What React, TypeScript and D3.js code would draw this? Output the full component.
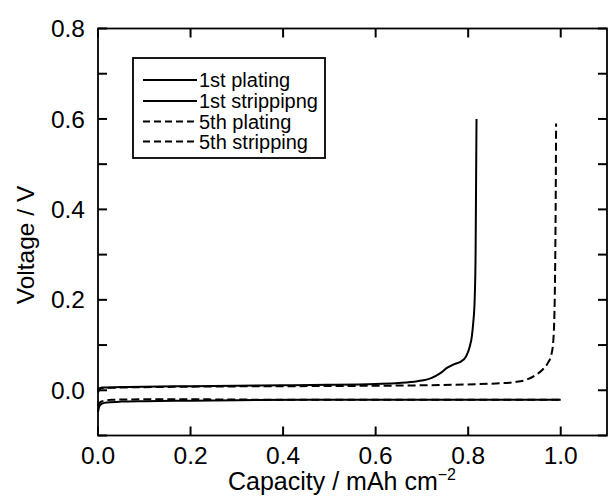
import React from "react";
import * as d3 from "d3";

const plating1X = [0, 0.002, 0.005, 0.01, 0.02, 0.05, 0.1, 0.2, 0.3, 0.5, 0.7, 0.9, 1.0];
const plating1Y = [-0.048, -0.038, -0.032, -0.029, -0.027, -0.025, -0.024, -0.023, -0.022, -0.021, -0.021, -0.021, -0.021];

const stripping1X = [0, 0.003, 0.01, 0.05, 0.1, 0.2, 0.3, 0.4, 0.5, 0.6, 0.65, 0.69, 0.72, 0.74, 0.755, 0.77, 0.785, 0.795, 0.803, 0.808, 0.811, 0.814, 0.816, 0.817, 0.818];
const stripping1Y = [0.0, 0.004, 0.006, 0.007, 0.008, 0.009, 0.01, 0.011, 0.012, 0.014, 0.016, 0.02, 0.027, 0.038, 0.05, 0.058, 0.064, 0.074, 0.095, 0.12, 0.15, 0.2, 0.3, 0.45, 0.6];

const plating5X = [0, 0.003, 0.01, 0.03, 0.1, 0.2, 0.4, 0.6, 0.8, 1.0];
const plating5Y = [-0.035, -0.028, -0.024, -0.021, -0.02, -0.02, -0.021, -0.021, -0.021, -0.021];

const stripping5X = [0, 0.003, 0.01, 0.05, 0.2, 0.4, 0.6, 0.7, 0.8, 0.86, 0.9, 0.925, 0.945, 0.96, 0.972, 0.98, 0.984, 0.987, 0.989, 0.99];
const stripping5Y = [-0.005, 0.002, 0.005, 0.006, 0.008, 0.009, 0.01, 0.011, 0.013, 0.015, 0.018, 0.023, 0.033, 0.045, 0.06, 0.08, 0.11, 0.2, 0.4, 0.59];

const xTicks = [0, 0.2, 0.4, 0.6, 0.8, 1.0];
const yTicksMajor = [0, 0.2, 0.4, 0.6, 0.8];
const yTicksAll = [-0.1, 0, 0.1, 0.2, 0.3, 0.4, 0.5, 0.6, 0.7, 0.8];

const seriesNames = ["1st plating", "1st strippipng", "5th plating", "5th stripping"];
const seriesDashed = [false, false, true, true];

const W = 609;
const H = 502;
const L = 98, R = 607, T = 28.5, B = 435.5;
const FONT = "'Liberation Sans', Arial, Helvetica, sans-serif";

export default function App() {
  const x = d3.scaleLinear().domain([0, 1.1]).range([L, R]);
  const y = d3.scaleLinear().domain([-0.1, 0.8]).range([B, T]);
  const line = d3
    .line<[number, number]>()
    .x((d) => x(d[0]))
    .y((d) => y(d[1]))
    .curve(d3.curveMonotoneX);

  const series = [
    d3.zip(plating1X, plating1Y) as [number, number][],
    d3.zip(stripping1X, stripping1Y) as [number, number][],
    d3.zip(plating5X, plating5Y) as [number, number][],
    d3.zip(stripping5X, stripping5Y) as [number, number][],
  ];

  const tickLen = 9;
  const legX = 133, legY = 58, legW = 192, legH = 100;
  const rowY = [80, 101, 121.5, 141.5];

  return (
    <svg
      width={W}
      height={H}
      style={{ position: "absolute", left: 0, top: 0, background: "#fff" }}
      fontFamily={FONT}
    >
      <rect x={0} y={0} width={W} height={H} fill="#fff" />
      {series.map((s, i) => (
        <path
          key={i}
          d={line(s) || ""}
          fill="none"
          stroke="#000"
          strokeWidth={2}
          strokeDasharray={seriesDashed[i] ? "8,4" : undefined}
        />
      ))}
      {/* frame */}
      <rect x={L} y={T} width={R - L} height={B - T} fill="none" stroke="#000" strokeWidth={1.8} />
      {/* x ticks bottom & top */}
      {xTicks.map((t) => (
        <g key={"x" + t}>
          <line x1={x(t)} x2={x(t)} y1={B} y2={B - tickLen} stroke="#000" strokeWidth={2} />
          <line x1={x(t)} x2={x(t)} y1={T} y2={T + tickLen} stroke="#000" strokeWidth={2} />
          <text x={x(t)} y={464} textAnchor="middle" fontSize={24.5} fill="#000">
            {t.toFixed(1)}
          </text>
        </g>
      ))}
      {/* y ticks left & right */}
      {yTicksAll.map((t) => (
        <g key={"y" + t}>
          <line x1={L} x2={L + tickLen} y1={y(t)} y2={y(t)} stroke="#000" strokeWidth={2} />
          <line x1={R} x2={R - tickLen} y1={y(t)} y2={y(t)} stroke="#000" strokeWidth={2} />
        </g>
      ))}
      {yTicksMajor.map((t) => (
        <text key={"yl" + t} x={85} y={y(t)} dy="0.35em" textAnchor="end" fontSize={24.5} fill="#000">
          {t.toFixed(1)}
        </text>
      ))}
      {/* axis titles */}
      <text x={342} y={490} textAnchor="middle" fontSize={25} fill="#000">
        Capacity / mAh cm
        <tspan fontSize={16} dy={-10}>−2</tspan>
      </text>
      <text
        transform={`translate(25,245) rotate(-90)`}
        textAnchor="middle"
        dy="0.35em"
        fontSize={24.5}
        fill="#000"
      >
        Voltage / V
      </text>
      {/* legend */}
      <rect x={legX} y={legY} width={legW} height={legH} fill="#fff" stroke="#000" strokeWidth={1.8} />
      {seriesNames.map((n, i) => (
        <g key={n}>
          <line
            x1={143}
            x2={197}
            y1={rowY[i]}
            y2={rowY[i]}
            stroke="#000"
            strokeWidth={2}
            strokeDasharray={seriesDashed[i] ? "7,4" : undefined}
          />
          <text x={199} y={rowY[i]} dy="0.35em" fontSize={20} fill="#000">
            {n}
          </text>
        </g>
      ))}
    </svg>
  );
}
